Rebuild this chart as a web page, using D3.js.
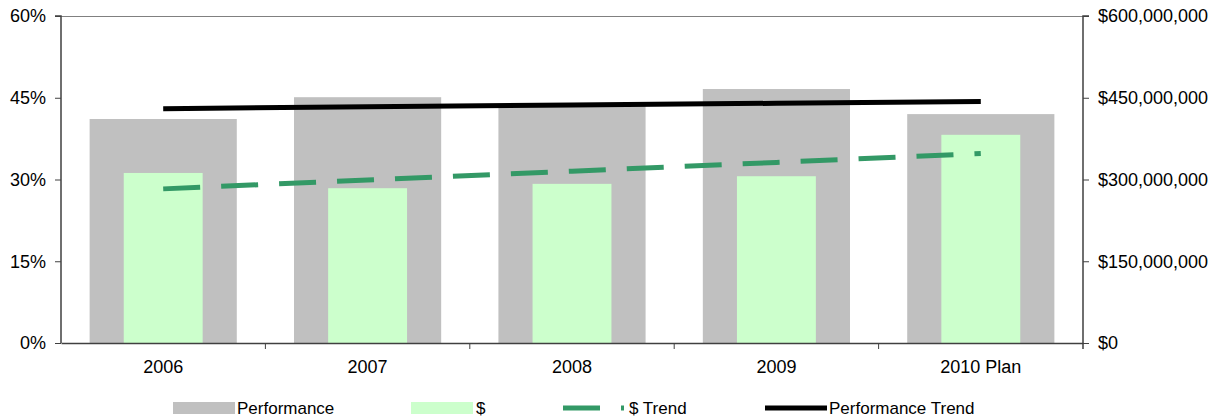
<!doctype html>
<html lang="en">
<head>
<meta charset="UTF-8">
<title>Performance and $ by Year</title>
<style>
  body { margin: 0; background: #fff; }
  svg { display: block; font-family: "Liberation Sans", Arial, sans-serif; }
  .tick text { font-size: 18px; fill: #000; }
  .legend text { font-size: 17px; fill: #000; }
</style>
</head>
<body>
<svg id="chart"></svg>
<script src="https://d3js.org/d3.v7.min.js"></script>
<script>
// data
var years = ["2006", "2007", "2008", "2009", "2010 Plan"];
var performance = [41.1, 45.1, 43.5, 46.6, 42.0];           // percent, left axis
var dollars = [312e6, 284e6, 292e6, 306e6, 382e6];          // right axis
var leftTicks = [0, 15, 30, 45, 60];
var rightTicks = [0, 150e6, 300e6, 450e6, 600e6];

var width = 1227, height = 419;
var plotLeft = 61, plotRight = 1083, plotTop = 16, plotBottom = 343;

var svg = d3.select("#chart").attr("width", width).attr("height", height);

var x = d3.scaleBand().domain(years).range([plotLeft, plotRight]).padding(0);
var yL = d3.scaleLinear().domain([0, 60]).range([plotBottom, plotTop]);
var yR = d3.scaleLinear().domain([0, 600e6]).range([plotBottom, plotTop]);

// linear trend like the spreadsheet's trendline
function trend(vals) {
  var n = vals.length, mx = (n - 1) / 2, my = d3.mean(vals);
  var num = 0, den = 0;
  vals.forEach(function(v, i) { num += (i - mx) * (v - my); den += (i - mx) * (i - mx); });
  var b = num / den;
  return vals.map(function(v, i) { return my + b * (i - mx); });
}

// top border of plot area
svg.append("line")
  .attr("x1", plotLeft).attr("x2", plotRight).attr("y1", plotTop + 0.5).attr("y2", plotTop + 0.5)
  .attr("stroke", "#808080").attr("stroke-width", 1);

// performance bars (wide grey)
var bw = x.bandwidth();
svg.selectAll("rect.perf")
  .data(performance)
  .enter().append("rect")
  .attr("class", "perf")
  .attr("x", function(d, i) { return x(years[i]) + bw * 0.14; })
  .attr("width", bw * 0.72)
  .attr("y", function(d) { return yL(d); })
  .attr("height", function(d) { return plotBottom - yL(d); })
  .attr("fill", "#c0c0c0");

// $ bars (narrow green)
svg.selectAll("rect.dol")
  .data(dollars)
  .enter().append("rect")
  .attr("class", "dol")
  .attr("x", function(d, i) { return x(years[i]) + bw * 0.307; })
  .attr("width", bw * 0.386)
  .attr("y", function(d) { return yR(d); })
  .attr("height", function(d) { return plotBottom - yR(d); })
  .attr("fill", "#ccffcc");

var center = function(i) { return x(years[i]) + bw / 2; };

// performance trend
var perfTrend = trend(performance);
svg.append("path")
  .datum(perfTrend)
  .attr("d", d3.line().x(function(d, i) { return center(i); }).y(function(d) { return yL(d); }))
  .attr("fill", "none").attr("stroke", "#000").attr("stroke-width", 5);

// $ trend
var dolTrend = trend(dollars);
svg.append("path")
  .datum(dolTrend)
  .attr("d", d3.line().x(function(d, i) { return center(i); }).y(function(d) { return yR(d); }))
  .attr("fill", "none").attr("stroke", "#339966").attr("stroke-width", 5)
  .attr("stroke-dasharray", "37,21");

// left axis
var axL = svg.append("g").attr("transform", "translate(" + plotLeft + ",0)")
  .call(d3.axisLeft(yL).tickValues(leftTicks).tickSize(6).tickPadding(9)
    .tickFormat(function(d) { return d + "%"; }));
// right axis
var axR = svg.append("g").attr("transform", "translate(" + plotRight + ",0)")
  .call(d3.axisRight(yR).tickValues(rightTicks).tickSize(6).tickPadding(9)
    .tickFormat(function(d) { return "$" + d3.format(",")(d); }));
// bottom axis
var axB = svg.append("g").attr("transform", "translate(0," + plotBottom + ")")
  .call(d3.axisBottom(x).tickSize(0).tickPadding(17));

[axL, axR, axB].forEach(function(g) {
  g.attr("font-size", null).attr("font-family", null);
  g.select(".domain").attr("stroke", "#404040").attr("stroke-width", 1.5);
  g.selectAll(".tick line").attr("stroke", "#404040");
});
axR.select(".domain").attr("d", "M6," + plotTop + "H0V" + (plotBottom + 6));
axL.select(".domain").attr("d", "M-6," + plotTop + "H0V" + plotBottom);

// category boundary ticks
svg.append("g").selectAll("line")
  .data(years.slice(1))
  .enter().append("line")
  .attr("x1", function(d) { return x(d); }).attr("x2", function(d) { return x(d); })
  .attr("y1", plotBottom).attr("y2", plotBottom + 6)
  .attr("stroke", "#404040");

// legend
var leg = svg.append("g").attr("class", "legend");
var ly = 408;
leg.append("rect").attr("x", 173).attr("y", 402).attr("width", 62).attr("height", 12).attr("fill", "#c0c0c0");
leg.append("text").attr("x", 237).attr("y", ly).attr("dy", "0.35em").text("Performance");
leg.append("rect").attr("x", 411).attr("y", 402).attr("width", 62).attr("height", 12).attr("fill", "#ccffcc");
leg.append("text").attr("x", 476).attr("y", ly).attr("dy", "0.35em").text("$");
leg.append("line").attr("x1", 563).attr("x2", 624).attr("y1", ly).attr("y2", ly)
  .attr("stroke", "#339966").attr("stroke-width", 5).attr("stroke-dasharray", "37,21");
leg.append("text").attr("x", 629).attr("y", ly).attr("dy", "0.35em").text("$ Trend");
leg.append("line").attr("x1", 765).attr("x2", 827).attr("y1", ly).attr("y2", ly)
  .attr("stroke", "#000").attr("stroke-width", 5);
leg.append("text").attr("x", 829).attr("y", ly).attr("dy", "0.35em").text("Performance Trend");
</script>
</body>
</html>
